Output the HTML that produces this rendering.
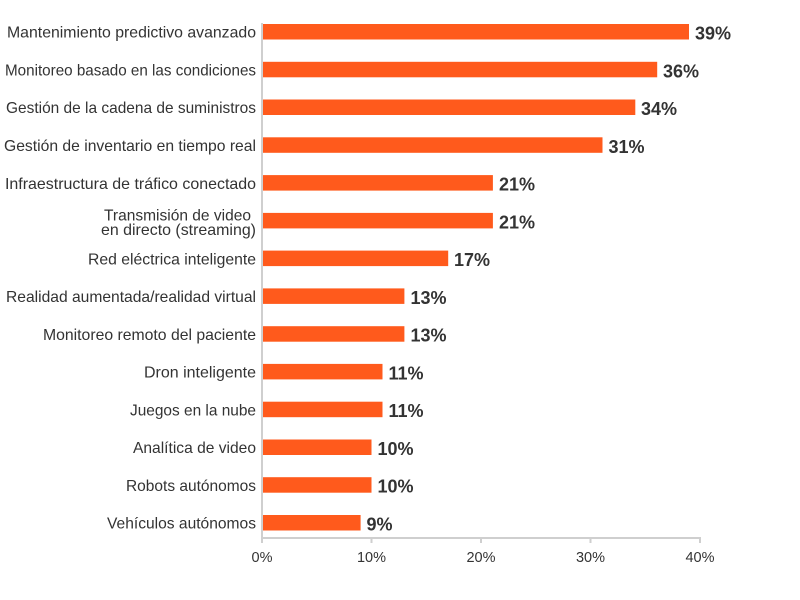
<!DOCTYPE html>
<html>
<head>
<meta charset="utf-8">
<style>
html,body{margin:0;padding:0;background:#fff;}
svg{display:block;}
.lab{font-family:"Liberation Sans",sans-serif;font-size:16px;fill:#333;}
.val{font-family:"Liberation Sans",sans-serif;font-size:18px;font-weight:bold;fill:#333;}
.tick{font-family:"Liberation Sans",sans-serif;font-size:14.5px;fill:#333;}
</style>
</head>
<body>
<svg width="800" height="600" viewBox="0 0 800 600" xmlns="http://www.w3.org/2000/svg">
<rect width="800" height="600" fill="#fff"/>
<!-- axes -->
<line x1="262" y1="23" x2="262" y2="539" stroke="#cfcfcf" stroke-width="2"/>
<line x1="261" y1="538" x2="701" y2="538" stroke="#cfcfcf" stroke-width="2"/>
<g stroke="#cfcfcf" stroke-width="2">
<line x1="262" y1="537" x2="262" y2="543"/>
<line x1="371.5" y1="537" x2="371.5" y2="543"/>
<line x1="481" y1="537" x2="481" y2="543"/>
<line x1="590.5" y1="537" x2="590.5" y2="543"/>
<line x1="700" y1="537" x2="700" y2="543"/>
</g>
<g class="tick" text-anchor="middle">
<text x="262" y="562">0%</text>
<text x="371.5" y="562">10%</text>
<text x="481" y="562">20%</text>
<text x="590.5" y="562">30%</text>
<text x="700" y="562">40%</text>
</g>
<!-- bars -->
<g fill="#ff5a1c">
<rect x="263" y="24" width="426" height="15.5"/>
<rect x="263" y="61.8" width="394.2" height="15.5"/>
<rect x="263" y="99.5" width="372.3" height="15.5"/>
<rect x="263" y="137.3" width="339.5" height="15.5"/>
<rect x="263" y="175.1" width="229.9" height="15.5"/>
<rect x="263" y="212.9" width="229.9" height="15.5"/>
<rect x="263" y="250.6" width="185.2" height="15.5"/>
<rect x="263" y="288.4" width="141.4" height="15.5"/>
<rect x="263" y="326.2" width="141.4" height="15.5"/>
<rect x="263" y="363.9" width="119.5" height="15.5"/>
<rect x="263" y="401.7" width="119.5" height="15.5"/>
<rect x="263" y="439.5" width="108.5" height="15.5"/>
<rect x="263" y="477.2" width="108.5" height="15.5"/>
<rect x="263" y="515" width="97.6" height="15.5"/>
</g>
<!-- values -->
<g class="val">
<text x="695" y="39.5">39%</text>
<text x="663" y="77.3">36%</text>
<text x="641" y="115">34%</text>
<text x="608.5" y="152.8">31%</text>
<text x="499" y="190.6">21%</text>
<text x="499" y="228.4">21%</text>
<text x="454" y="266.1">17%</text>
<text x="410.5" y="303.9">13%</text>
<text x="410.5" y="341.7">13%</text>
<text x="388.5" y="379.4">11%</text>
<text x="388.5" y="417.2">11%</text>
<text x="377.5" y="455">10%</text>
<text x="377.5" y="492.7">10%</text>
<text x="366.5" y="530.5">9%</text>
</g>
<!-- category labels -->
<g class="lab">
<text x="7" y="37.7" textLength="249" lengthAdjust="spacingAndGlyphs">Mantenimiento predictivo avanzado</text>
<text x="5" y="75.5" textLength="251" lengthAdjust="spacingAndGlyphs">Monitoreo basado en las condiciones</text>
<text x="6" y="113.2" textLength="250" lengthAdjust="spacingAndGlyphs">Gestión de la cadena de suministros</text>
<text x="4" y="151" textLength="252" lengthAdjust="spacingAndGlyphs">Gestión de inventario en tiempo real</text>
<text x="5" y="188.8" textLength="251" lengthAdjust="spacingAndGlyphs">Infraestructura de tráfico conectado</text>
<text x="104" y="220.5" textLength="147" lengthAdjust="spacingAndGlyphs">Transmisión de video</text>
<text x="101" y="235.2" textLength="155" lengthAdjust="spacingAndGlyphs">en directo (streaming)</text>
<text x="88" y="264.3" textLength="168" lengthAdjust="spacingAndGlyphs">Red eléctrica inteligente</text>
<text x="6" y="302.1" textLength="250" lengthAdjust="spacingAndGlyphs">Realidad aumentada/realidad virtual</text>
<text x="43" y="339.9" textLength="213" lengthAdjust="spacingAndGlyphs">Monitoreo remoto del paciente</text>
<text x="144" y="377.6" textLength="112" lengthAdjust="spacingAndGlyphs">Dron inteligente</text>
<text x="130" y="415.4" textLength="126" lengthAdjust="spacingAndGlyphs">Juegos en la nube</text>
<text x="133" y="453.2" textLength="123" lengthAdjust="spacingAndGlyphs">Analítica de video</text>
<text x="126" y="490.9" textLength="130" lengthAdjust="spacingAndGlyphs">Robots autónomos</text>
<text x="107" y="528.7" textLength="149" lengthAdjust="spacingAndGlyphs">Vehículos autónomos</text>
</g>
</svg>
</body>
</html>
